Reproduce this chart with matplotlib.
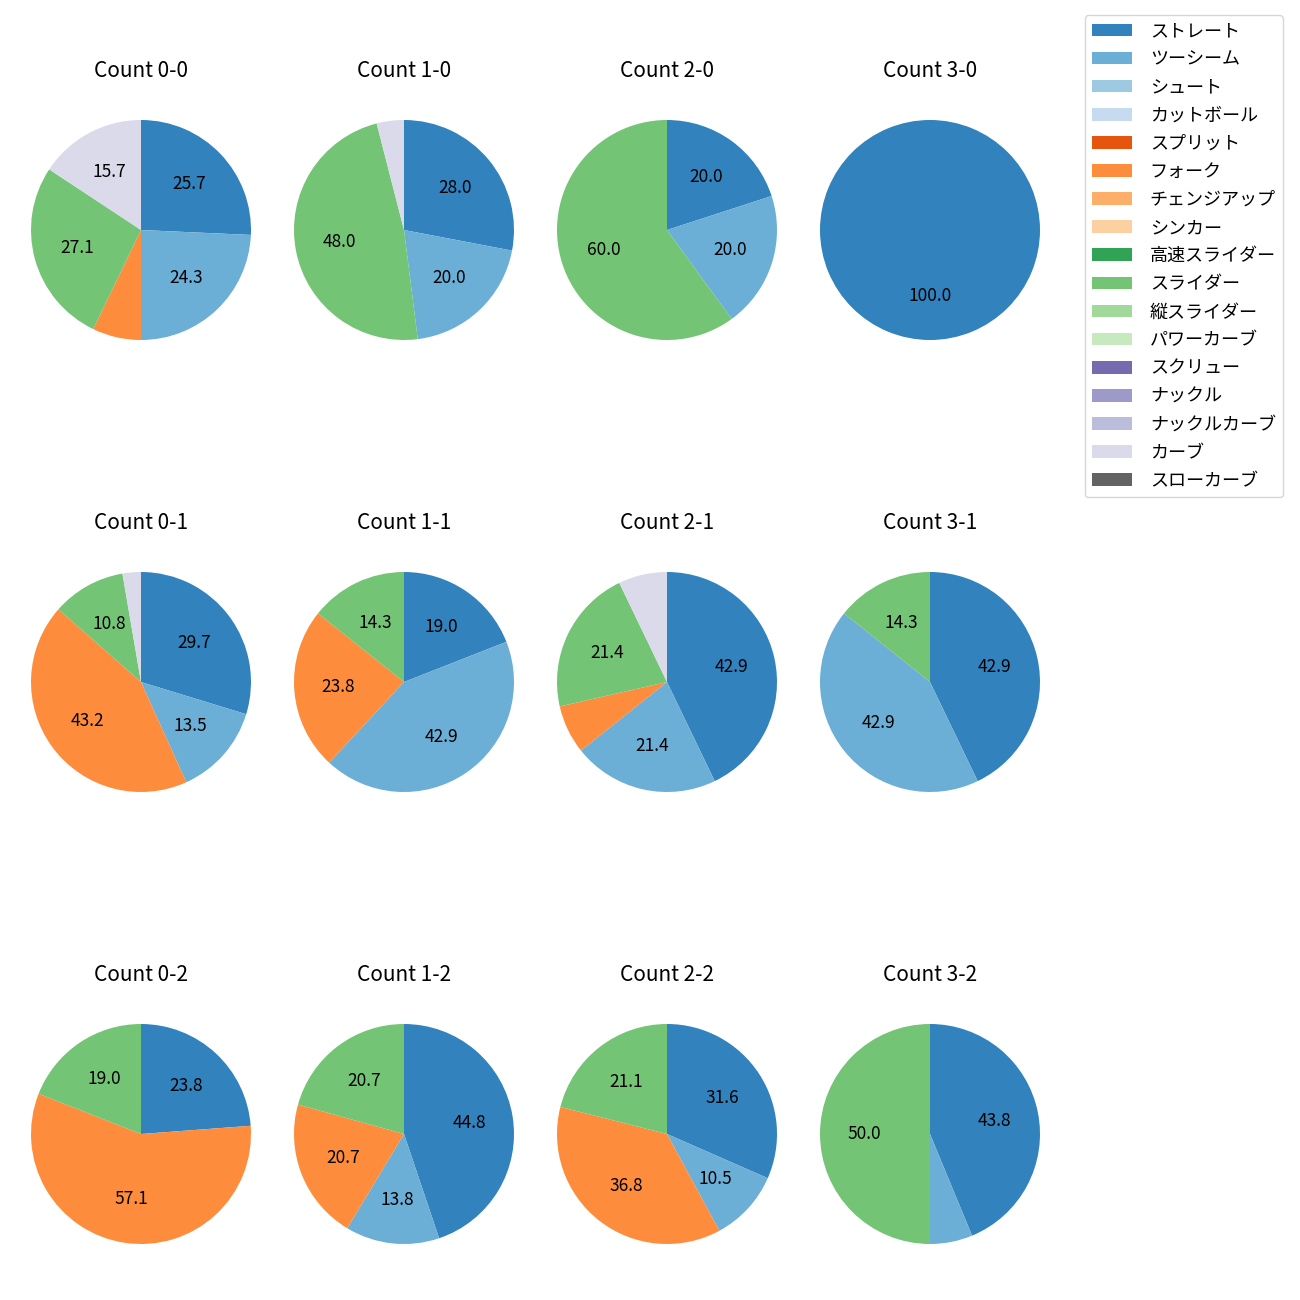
import matplotlib
matplotlib.use('Agg')
import matplotlib.pyplot as plt
from matplotlib.patches import Patch

plt.rcParams['font.family'] = ['Noto Sans CJK JP', 'DejaVu Sans']

# 球種 (凡例の順)
pitch_types = ['ストレート', 'ツーシーム', 'シュート', 'カットボール', 'スプリット', 'フォーク',
               'チェンジアップ', 'シンカー', '高速スライダー', 'スライダー', '縦スライダー',
               'パワーカーブ', 'スクリュー', 'ナックル', 'ナックルカーブ', 'カーブ', 'スローカーブ']
colors = list(plt.cm.tab20c.colors[:17])

# カウント別の投球数 (球種の順に並べる)
#            St Tw Sh Ct Sp Fk Ch Si HS Sl VS PC Sc Kn KC Cv SC
count_0_0 = [18, 17, 0, 0, 0, 5, 0, 0, 0, 19, 0, 0, 0, 0, 0, 11, 0]
count_1_0 = [7, 5, 0, 0, 0, 0, 0, 0, 0, 12, 0, 0, 0, 0, 0, 1, 0]
count_2_0 = [1, 1, 0, 0, 0, 0, 0, 0, 0, 3, 0, 0, 0, 0, 0, 0, 0]
count_3_0 = [1, 0, 0, 0, 0, 0, 0, 0, 0, 0, 0, 0, 0, 0, 0, 0, 0]
count_0_1 = [11, 5, 0, 0, 0, 16, 0, 0, 0, 4, 0, 0, 0, 0, 0, 1, 0]
count_1_1 = [4, 9, 0, 0, 0, 5, 0, 0, 0, 3, 0, 0, 0, 0, 0, 0, 0]
count_2_1 = [6, 3, 0, 0, 0, 1, 0, 0, 0, 3, 0, 0, 0, 0, 0, 1, 0]
count_3_1 = [3, 3, 0, 0, 0, 0, 0, 0, 0, 1, 0, 0, 0, 0, 0, 0, 0]
count_0_2 = [5, 0, 0, 0, 0, 12, 0, 0, 0, 4, 0, 0, 0, 0, 0, 0, 0]
count_1_2 = [13, 4, 0, 0, 0, 6, 0, 0, 0, 6, 0, 0, 0, 0, 0, 0, 0]
count_2_2 = [6, 2, 0, 0, 0, 7, 0, 0, 0, 4, 0, 0, 0, 0, 0, 0, 0]
count_3_2 = [7, 1, 0, 0, 0, 0, 0, 0, 0, 8, 0, 0, 0, 0, 0, 0, 0]

grid = [
    [('Count 0-0', count_0_0), ('Count 1-0', count_1_0), ('Count 2-0', count_2_0), ('Count 3-0', count_3_0)],
    [('Count 0-1', count_0_1), ('Count 1-1', count_1_1), ('Count 2-1', count_2_1), ('Count 3-1', count_3_1)],
    [('Count 0-2', count_0_2), ('Count 1-2', count_1_2), ('Count 2-2', count_2_2), ('Count 3-2', count_3_2)],
]


def pct_label(p):
    # 10%未満は表示しない
    return f'{p:.1f}' if p >= 10 else ''


W = H = 1300
fig = plt.figure(figsize=(13, 13), dpi=100)

box = 275  # 軸のサイズ (px)
for i, row in enumerate(grid):
    for j, (title, values) in enumerate(row):
        cx = 141 + 263 * j
        cy = 230 + 452 * i
        ax = fig.add_axes([(cx - box / 2) / W, 1 - (cy + box / 2) / H, box / W, box / H])
        idx = [k for k, v in enumerate(values) if v > 0]
        ax.pie([values[k] for k in idx], colors=[colors[k] for k in idx],
               startangle=90, counterclock=False, autopct=pct_label,
               textprops={'fontsize': 12.5})
        ax.set_title(title, fontsize=15, pad=11)

handles = [Patch(facecolor=c) for c in colors]
fig.legend(handles, pitch_types, loc='upper right',
           bbox_to_anchor=(1283 / W, 1 - 15 / H), borderaxespad=0, fontsize=13,
           labelspacing=0.56, handlelength=2.2, handletextpad=1.0)

fig.savefig('out.png', dpi=100)
